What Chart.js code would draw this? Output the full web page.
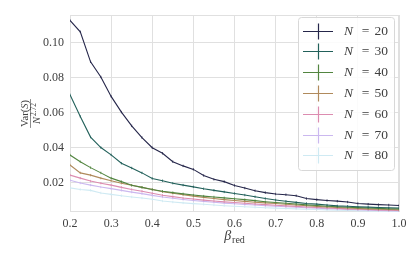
<!DOCTYPE html>
<html>
<head>
<meta charset="utf-8">
<script src="https://cdn.jsdelivr.net/npm/chart.js@4.4.1/dist/chart.umd.min.js"></script>
<style>
html, body { margin: 0; padding: 0; background: #fff; }
#wrap { width: 415px; height: 260px; }
</style>
</head>
<body>
<div id="wrap"><canvas id="chart" width="415" height="260"></canvas></div>
<script>
const betaRed = [0.2, 0.225, 0.25, 0.275, 0.3, 0.325, 0.35, 0.375, 0.4, 0.425, 0.45, 0.475,
    0.5, 0.525, 0.55, 0.575, 0.6, 0.625, 0.65, 0.675, 0.7, 0.725, 0.75, 0.775,
    0.8, 0.825, 0.85, 0.875, 0.9, 0.925, 0.95, 0.975, 1.0];

const seriesN = [20, 30, 40, 50, 60, 70, 80];

const varN20 = [0.1128, 0.1063, 0.0891, 0.0804, 0.0693, 0.0603, 0.0524, 0.0457, 0.0399, 0.0367, 0.0319, 0.0295,
    0.0275, 0.0240, 0.0218, 0.0205, 0.0183, 0.0168, 0.0153, 0.0142, 0.0134, 0.0130, 0.0124, 0.0108,
    0.0102, 0.0097, 0.0093, 0.0088, 0.0080, 0.0076, 0.0073, 0.0071, 0.0068];
const varN30 = [0.0702, 0.0578, 0.0460, 0.0400, 0.0358, 0.0310, 0.0283, 0.0255, 0.0223, 0.0210, 0.0196, 0.0185,
    0.0175, 0.0164, 0.0155, 0.0146, 0.0137, 0.0128, 0.0118, 0.0108, 0.0100, 0.0093, 0.0086, 0.0080,
    0.0076, 0.0071, 0.0066, 0.0064, 0.0061, 0.0059, 0.0057, 0.0055, 0.0054];
const varN40 = [0.0357, 0.0319, 0.0285, 0.0255, 0.0225, 0.0205, 0.0184, 0.0172, 0.0160, 0.0150, 0.0142, 0.0135,
    0.0128, 0.0122, 0.0117, 0.0112, 0.0107, 0.0102, 0.0096, 0.0090, 0.0085, 0.0081, 0.0077, 0.0072,
    0.0068, 0.0064, 0.0061, 0.0058, 0.0056, 0.0054, 0.0052, 0.0050, 0.0049];
const varN50 = [0.0300, 0.0255, 0.0242, 0.0225, 0.0210, 0.0196, 0.0184, 0.0172, 0.0160, 0.0147, 0.0138, 0.0130,
    0.0122, 0.0115, 0.0108, 0.0102, 0.0097, 0.0092, 0.0087, 0.0083, 0.0080, 0.0075, 0.0071, 0.0067,
    0.0063, 0.0060, 0.0057, 0.0054, 0.0051, 0.0049, 0.0047, 0.0045, 0.0044];
const varN60 = [0.0242, 0.0225, 0.0208, 0.0196, 0.0185, 0.0172, 0.0160, 0.0150, 0.0138, 0.0127, 0.0119, 0.0111,
    0.0105, 0.0099, 0.0094, 0.0089, 0.0085, 0.0081, 0.0077, 0.0073, 0.0070, 0.0066, 0.0063, 0.0060,
    0.0057, 0.0054, 0.0052, 0.0049, 0.0047, 0.0045, 0.0043, 0.0042, 0.0040];
const varN70 = [0.0213, 0.0197, 0.0185, 0.0174, 0.0165, 0.0155, 0.0145, 0.0136, 0.0126, 0.0117, 0.0110, 0.0103,
    0.0097, 0.0092, 0.0087, 0.0082, 0.0078, 0.0074, 0.0071, 0.0067, 0.0064, 0.0061, 0.0058, 0.0055,
    0.0053, 0.0050, 0.0048, 0.0046, 0.0044, 0.0042, 0.0040, 0.0039, 0.0037];
const varN80 = [0.0169, 0.0160, 0.0155, 0.0140, 0.0132, 0.0124, 0.0117, 0.0111, 0.0104, 0.0094, 0.0088, 0.0083,
    0.0079, 0.0075, 0.0071, 0.0067, 0.0064, 0.0061, 0.0058, 0.0055, 0.0053, 0.0051, 0.0049, 0.0047,
    0.0045, 0.0043, 0.0041, 0.0040, 0.0038, 0.0037, 0.0036, 0.0035, 0.0034];

const xTicks = [0.2, 0.3, 0.4, 0.5, 0.6, 0.7, 0.8, 0.9, 1.0];
const yTicks = [0.02, 0.04, 0.06, 0.08, 0.10];

// cubehelix, 7 steps
const colors = ['#25264a', '#22605a', '#528540', '#b08a5c', '#dc8cb0', '#cbb8ef', '#cfeaf3'];

const SERIF = '"Liberation Serif", "DejaVu Serif", serif';
const gridColor = '#e0e0e0';
const textColor = '#404040';

const allValues = [varN20, varN30, varN40, varN50, varN60, varN70, varN80];

const datasets = seriesN.map((n, i) => ({
    label: `N = ${n}`,
    data: betaRed.map((b, j) => ({ x: b, y: allValues[i][j] })),
    borderColor: colors[i],
    backgroundColor: colors[i],
    borderWidth: 1.1,
    pointStyle: 'line',
    pointRotation: 90,
    pointRadius: 1.2,
    pointBorderWidth: 0.8,
    tension: 0,
    fill: false,
}));

const frame = {
    id: 'frame',
    beforeDatasetsDraw(chart) {
        const { ctx, chartArea: a } = chart;
        ctx.save();
        ctx.strokeStyle = gridColor;
        ctx.lineWidth = 1;
        ctx.strokeRect(a.left + 0.5, a.top + 0.5, a.right - a.left - 1, a.bottom - a.top - 1);
        ctx.restore();
    },
};

const axisTitles = {
    id: 'axisTitles',
    afterDraw(chart) {
        const { ctx, chartArea: a } = chart;
        ctx.save();
        ctx.fillStyle = textColor;
        ctx.textBaseline = 'alphabetic';

        // x title: beta_red
        const cx = (a.left + a.right) / 2;
        ctx.font = `italic 14px ${SERIF}`;
        const bw = ctx.measureText('β').width;
        ctx.font = `10px ${SERIF}`;
        const rw = ctx.measureText('red').width;
        const x0 = cx - (bw + rw + 1) / 2;
        ctx.font = `italic 14px ${SERIF}`;
        ctx.fillText('β', x0, 240);
        ctx.font = `10px ${SERIF}`;
        ctx.fillText('red', x0 + bw + 1, 243);

        // y title: Var(S) / N^2.72, rotated
        const cy = (a.top + a.bottom) / 2;
        ctx.translate(30.5, cy);
        ctx.rotate(-Math.PI / 2);
        ctx.textAlign = 'left';
        ctx.font = `10.5px ${SERIF}`;
        const w1 = ctx.measureText('Var(').width;
        ctx.font = `italic 10.5px ${SERIF}`;
        const w2 = ctx.measureText('S').width;
        ctx.font = `10.5px ${SERIF}`;
        const w3 = ctx.measureText(')').width;
        const numW = w1 + w2 + w3;
        const nx = -numW / 2;
        ctx.fillText('Var(', nx, -2.5);
        ctx.font = `italic 10.5px ${SERIF}`;
        ctx.fillText('S', nx + w1, -2.5);
        ctx.font = `10.5px ${SERIF}`;
        ctx.fillText(')', nx + w1 + w2, -2.5);

        ctx.font = `italic 10.5px ${SERIF}`;
        const dn = ctx.measureText('N').width;
        ctx.font = `7.5px ${SERIF}`;
        const de = ctx.measureText('2.72').width;
        const dx = -(dn + de + 1) / 2;
        ctx.font = `italic 10.5px ${SERIF}`;
        ctx.fillText('N', dx, 9.5);
        ctx.font = `7.5px ${SERIF}`;
        ctx.fillText('2.72', dx + dn + 1, 5.5);

        ctx.strokeStyle = textColor;
        ctx.lineWidth = 0.6;
        ctx.beginPath();
        ctx.moveTo(-numW / 2 - 1, 0);
        ctx.lineTo(numW / 2 + 1, 0);
        ctx.stroke();
        ctx.restore();
    },
};

const legendBox = {
    id: 'legendBox',
    afterDatasetsDraw(chart) {
        const { ctx } = chart;
        const left = 298, top = 17, right = 394, bottom = 170;
        ctx.save();
        ctx.fillStyle = 'rgba(255,255,255,0.85)';
        ctx.strokeStyle = '#d8d8d8';
        ctx.lineWidth = 1;
        ctx.beginPath();
        ctx.roundRect(left + 0.5, top + 0.5, right - left, bottom - top, 3);
        ctx.fill();
        ctx.stroke();

        seriesN.forEach((n, i) => {
            const y = Math.round(30.5 + i * 20.8) + 0.5;
            ctx.strokeStyle = colors[i];
            ctx.lineWidth = 1.2;
            ctx.beginPath();
            ctx.moveTo(303, y);
            ctx.lineTo(333, y);
            ctx.moveTo(318.5, y - 8);
            ctx.lineTo(318.5, y + 8);
            ctx.stroke();

            ctx.fillStyle = textColor;
            ctx.textBaseline = 'middle';
            ctx.textAlign = 'left';
            ctx.font = `italic 13.5px ${SERIF}`;
            ctx.fillText('N', 344, y);
            ctx.textAlign = 'center';
            ctx.font = `13.5px ${SERIF}`;
            ctx.fillText('=', 365.5, y);
            ctx.textAlign = 'left';
            ctx.fillText(String(n), 374.5, y);
        });
        ctx.restore();
    },
};

new Chart(document.getElementById('chart'), {
    type: 'line',
    data: { datasets },
    options: {
        responsive: false,
        devicePixelRatio: 1,
        animation: false,
        layout: { padding: { top: 15, right: 16, bottom: 0, left: 0 } },
        plugins: {
            legend: { display: false },
            tooltip: { enabled: false },
        },
        scales: {
            x: {
                type: 'linear',
                min: 0.2,
                max: 1.0,
                afterBuildTicks: (scale) => {
                    scale.ticks = xTicks.map((v) => ({ value: v }));
                },
                afterFit: (scale) => {
                    scale.height = 48;
                },
                ticks: {
                    callback: (value) => value.toFixed(1),
                    font: { family: SERIF, size: 12 },
                    color: textColor,
                    padding: 5,
                    maxRotation: 0,
                },
                grid: { color: gridColor, drawTicks: false },
                border: { display: false },
            },
            y: {
                min: 0.0031,
                max: 0.1159,
                afterBuildTicks: (scale) => {
                    scale.ticks = yTicks.map((v) => ({ value: v }));
                },
                afterFit: (scale) => {
                    scale.width = 70;
                },
                ticks: {
                    callback: (value) => value.toFixed(2),
                    font: { family: SERIF, size: 12 },
                    color: textColor,
                    padding: 6,
                },
                grid: { color: gridColor, drawTicks: false },
                border: { display: false },
            },
        },
    },
    plugins: [frame, axisTitles, legendBox],
});
</script>
</body>
</html>
